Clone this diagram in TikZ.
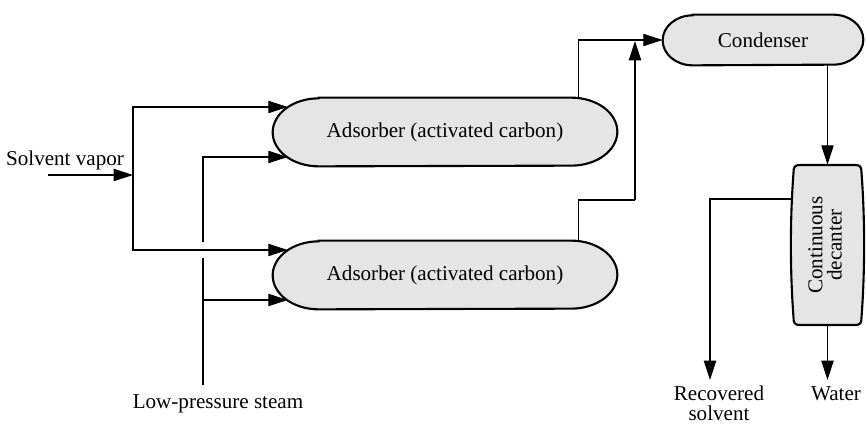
\documentclass[tikz,border=0pt]{standalone}
\usepackage{fontspec}
\setmainfont{Liberation Serif}
\usepackage{tikz}
\usetikzlibrary{arrows.meta,positioning,calc,backgrounds}

\begin{document}
\begin{tikzpicture}[
  unit/.style={minimum width=6.88cm,minimum height=1.36cm,inner sep=0pt,
               font=\fontsize{12}{13}\selectfont},
  vessel/.style={draw,line width=1.2pt,fill=black!10},
  pipe/.style={line width=.6pt},
  flow/.style={pipe,-{Triangle[length=11pt,width=7pt]}},
  label/.style={font=\fontsize{12}{11}\selectfont,align=center,inner sep=0pt}
]
  \useasboundingbox (0,0) rectangle (17.34,8.48);

  \node[unit] (ads1) at (8.90,5.84) {Adsorber (activated carbon)};
  \node[unit] (ads2) at (8.90,2.98) {Adsorber (activated carbon)};
  \node[unit,minimum width=4cm,minimum height=1cm] (cond) at (15.26,7.68) {Condenser};
  \node[unit,minimum width=1.46cm,minimum height=3.2cm] (dec) at (16.55,3.58)
    {\rotatebox{90}{\begin{tabular}{@{}c@{}}Continuous\\[-2pt]decanter\end{tabular}}};

  \begin{pgfonlayer}{background}
    \foreach \n in {ads1,ads2}
      \draw[vessel] ([xshift=.92cm]\n.north west) -- ([xshift=-.92cm]\n.north east)
        arc[start angle=90,end angle=-90,x radius=.92cm,y radius=.68cm]
        -- ([xshift=.92cm]\n.south west)
        arc[start angle=270,end angle=90,x radius=.92cm,y radius=.68cm] -- cycle;
    \draw[vessel] ([xshift=.6cm]cond.north west) -- ([xshift=-.6cm]cond.north east)
      arc[start angle=90,end angle=-90,x radius=.6cm,y radius=.5cm]
      -- ([xshift=.6cm]cond.south west)
      arc[start angle=270,end angle=90,x radius=.6cm,y radius=.5cm] -- cycle;
    % barrel-shaped decanter
    \begin{scope}[shift={(dec.center)}]
      \draw[vessel] (-.56,1.6) -- (.56,1.6)
        .. controls (.66,1.6) and (.68,1.55) .. (.68,1.45)
        .. controls (.75,.5) and (.75,-.5) .. (.68,-1.45)
        .. controls (.68,-1.55) and (.66,-1.6) .. (.56,-1.6)
        -- (-.56,-1.6)
        .. controls (-.66,-1.6) and (-.68,-1.55) .. (-.68,-1.45)
        .. controls (-.75,-.5) and (-.75,.5) .. (-.68,1.45)
        .. controls (-.68,1.55) and (-.66,1.6) .. cycle;
    \end{scope}
  \end{pgfonlayer}

  \node[label,anchor=base] (vap) at (1.30,5.18) {Solvent vapor};
  \node[label,anchor=base] (stm) at (4.36,0.32) {Low-pressure steam};
  \node[label,anchor=north] (rec) at (14.38,0.76) {Recovered\\solvent};
  \node[label,anchor=north] (wat) at (16.72,0.76) {Water};

  \coordinate (svin) at (0.96,4.98);
  \coordinate (split) at (2.66,4.98);
  \coordinate (steam) at (4.06,0.78);
  \coordinate (stlo) at (4.06,3.32);
  \coordinate (sthi) at (4.06,3.64);
  \coordinate (riser) at (12.70,4.48);
  \coordinate (rsout) at (14.20,0.88);
  \coordinate (wout) at (16.55,0.88);

  % feed
  \draw[flow] (svin) -- (split);
  \draw[flow] (split) |- ([xshift=.3cm,yshift=.5cm]ads1.west);
  \draw[flow] (split) |- ([xshift=.3cm,yshift=.5cm]ads2.west);
  % steam, broken where it crosses the feed line
  \draw[pipe] (steam) -- (stlo);
  \draw[flow] (stlo) |- ([xshift=.3cm,yshift=-.5cm]ads2.west);
  \draw[flow] (sthi) |- ([xshift=.3cm,yshift=-.5cm]ads1.west);
  % to condenser
  \draw[flow] ([xshift=-.78cm]ads1.north east) |- (cond.west);
  \draw[pipe] ([xshift=-.78cm]ads2.north east) |- (riser);
  \draw[flow] (riser) -- (riser |- 0,7.66);
  \draw[flow] (cond.south -| dec.north) -- (dec.north);
  % decanter outlets
  \draw[flow] ([yshift=.92cm]dec.west) -| (rsout);
  \draw[flow] (dec.south) -- (wout);
\end{tikzpicture}
\end{document}
